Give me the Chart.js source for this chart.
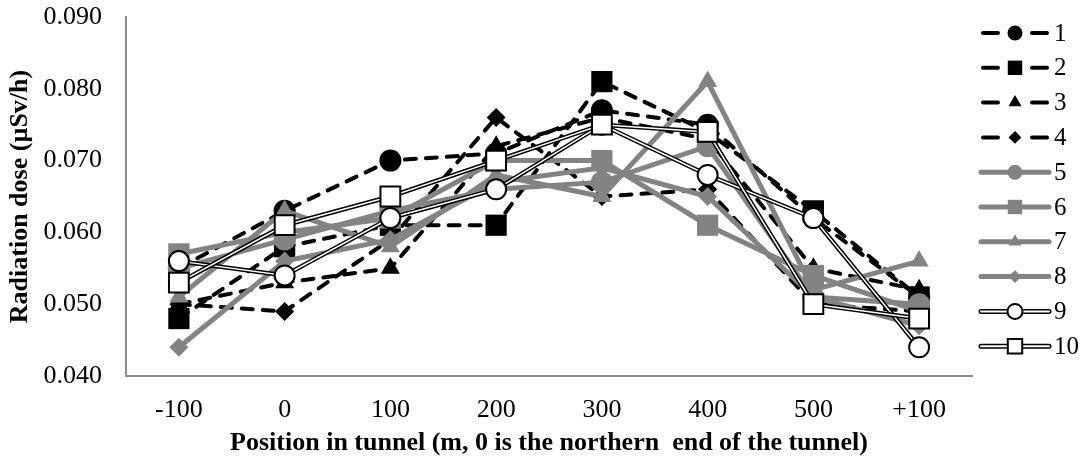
<!DOCTYPE html>
<html>
<head>
<meta charset="utf-8">
<script src="https://cdn.jsdelivr.net/npm/chart.js@4"></script>
<style>
  html, body { margin: 0; padding: 0; background: #fff; }
  #wrap { width: 1089px; height: 464px; }
</style>
</head>
<body>
<div id="wrap"><canvas id="chart" width="1089" height="464"></canvas></div>
<script>
// positions along the tunnel (x categories)
const positions = ['-100', '0', '100', '200', '300', '400', '500', '+100'];
const yTicks = [0.040, 0.050, 0.060, 0.070, 0.080, 0.090];

// radiation dose per measurement run (uSv/h)
const run1 = [0.055, 0.063, 0.070, 0.071, 0.077, 0.075, 0.062, 0.051];
const run2 = [0.048, 0.058, 0.061, 0.061, 0.081, 0.074, 0.063, 0.051];
const run3 = [0.050, 0.053, 0.055, 0.072, 0.076, 0.073, 0.055, 0.052];
const run4 = [0.050, 0.049, 0.059, 0.076, 0.065, 0.066, 0.050, 0.049];
const run5 = [0.055, 0.059, 0.063, 0.066, 0.067, 0.072, 0.051, 0.050];
const run6 = [0.057, 0.060, 0.062, 0.070, 0.070, 0.061, 0.054, 0.049];
const run7 = [0.051, 0.063, 0.058, 0.068, 0.065, 0.081, 0.052, 0.056];
const run8 = [0.044, 0.056, 0.059, 0.067, 0.069, 0.065, 0.051, 0.047];
const run9 = [0.056, 0.054, 0.062, 0.066, 0.075, 0.068, 0.062, 0.044];
const run10 = [0.053, 0.061, 0.065, 0.070, 0.075, 0.074, 0.050, 0.048];

const runNames = ['1', '2', '3', '4', '5', '6', '7', '8', '9', '10'];
const runValues = [run1, run2, run3, run4, run5, run6, run7, run8, run9, run10];

const GREY = '#838383';
const FONT = '"Liberation Serif", "Times New Roman", serif';

// marker shape + size per run
const markers = [
    { style: 'circle', r: 11 }, { style: 'rect', r: 15 }, { style: 'triangle', r: 11 }, { style: 'rectRot', r: 9.5 },
    { style: 'circle', r: 11 }, { style: 'rect', r: 15 }, { style: 'triangle', r: 11 }, { style: 'rectRot', r: 9.5 },
    { style: 'circle', r: 11 }, { style: 'rect', r: 15 }
];

function kind(i) {
    if (i < 4) return 'black';
    if (i < 8) return 'grey';
    return 'white';
}

// Excel draws later series on top; in Chart.js a lower order is drawn on top
const datasets = [];
runValues.forEach((vals, i) => {
    const k = kind(i);
    const m = markers[i];
    const rank = (9 - i) * 2;
    if (k === 'black') {
        datasets.push({
            label: runNames[i], data: vals, order: rank,
            borderColor: '#000', borderWidth: 4, borderDash: [11, 10], borderCapStyle: 'round',
            pointStyle: m.style, pointRadius: m.r, pointBackgroundColor: '#000', pointBorderColor: '#000', pointBorderWidth: 0
        });
    } else if (k === 'grey') {
        datasets.push({
            label: runNames[i], data: vals, order: rank,
            borderColor: GREY, borderWidth: 5,
            pointStyle: m.style, pointRadius: m.r, pointBackgroundColor: GREY, pointBorderColor: GREY, pointBorderWidth: 0
        });
    } else {
        // double line: black outline underneath, thin white core with markers on top
        datasets.push({
            label: runNames[i] + '_outline', data: vals, order: rank + 1,
            borderColor: '#000', borderWidth: 4.5, pointRadius: 0
        });
        datasets.push({
            label: runNames[i], data: vals, order: rank,
            borderColor: '#fff', borderWidth: 1.5,
            pointStyle: m.style, pointRadius: m.r - 1, pointBackgroundColor: '#fff', pointBorderColor: '#000', pointBorderWidth: 2
        });
    }
});

// legend at the right with line + marker samples
const sideLegend = {
    id: 'sideLegend',
    afterDraw(c) {
        const ctx = c.ctx;
        const x0 = c.chartArea.right + 9;
        const x1 = x0 + 68;
        const xm = (x0 + x1) / 2;
        ctx.save();
        runNames.forEach((name, i) => {
            const y = 33 + i * 34.8;
            const k = kind(i);
            const m = markers[i];
            ctx.lineCap = 'round';
            ctx.setLineDash([]);
            if (k === 'black') {
                ctx.strokeStyle = '#000';
                ctx.lineWidth = 4;
                ctx.beginPath();
                ctx.moveTo(x0 + 2, y); ctx.lineTo(x0 + 17, y);
                ctx.moveTo(x1 - 17, y); ctx.lineTo(x1 - 2, y);
                ctx.stroke();
            } else if (k === 'grey') {
                ctx.strokeStyle = GREY;
                ctx.lineWidth = 5;
                ctx.beginPath(); ctx.moveTo(x0, y); ctx.lineTo(x1, y); ctx.stroke();
            } else {
                ctx.strokeStyle = '#000';
                ctx.lineWidth = 5;
                ctx.beginPath(); ctx.moveTo(x0, y); ctx.lineTo(x1, y); ctx.stroke();
                ctx.strokeStyle = '#fff';
                ctx.lineWidth = 2;
                ctx.beginPath(); ctx.moveTo(x0, y); ctx.lineTo(x1, y); ctx.stroke();
            }
            const fill = k === 'black' ? '#000' : (k === 'grey' ? GREY : '#fff');
            ctx.fillStyle = fill;
            ctx.strokeStyle = '#000';
            ctx.lineWidth = 2;
            Chart.helpers.drawPoint(ctx, {
                pointStyle: m.style, radius: m.r * 0.68, rotation: 0,
                borderWidth: k === 'white' ? 2 : 0
            }, xm, y);
            ctx.fillStyle = '#000';
            ctx.font = '25px ' + FONT;
            ctx.textAlign = 'left';
            ctx.textBaseline = 'middle';
            ctx.fillText(name, x1 + 5, y + 1);
        });
        ctx.restore();
    }
};

new Chart(document.getElementById('chart'), {
    type: 'line',
    data: { labels: positions, datasets: datasets },
    options: {
        responsive: false,
        animation: false,
        layout: { autoPadding: false, padding: { top: 17, right: 117, left: 0, bottom: 5 } },
        plugins: {
            legend: { display: false },
            tooltip: { enabled: false }
        },
        scales: {
            x: {
                offset: true,
                grid: { display: false, drawTicks: false },
                border: { display: true, color: '#8c8c8c', width: 2 },
                ticks: { color: '#000', padding: 19, font: { family: FONT, size: 26 } },
                title: { display: true, text: 'Position in tunnel (m, 0 is the northern  end of the tunnel)', color: '#000',
                    padding: { top: 2, bottom: 0 }, font: { family: FONT, size: 26, weight: 'bold' } },
                afterFit: s => { s.height = 464 - 5 - 376; }
            },
            y: {
                min: yTicks[0],
                max: yTicks[yTicks.length - 1],
                afterBuildTicks: s => { s.ticks = yTicks.map(v => ({ value: v })); },
                grid: { display: false, drawTicks: false },
                border: { display: true, color: '#8c8c8c', width: 2 },
                ticks: { color: '#000', padding: 24, font: { family: FONT, size: 26 },
                    callback: v => Number(v).toFixed(3) },
                title: { display: true, text: 'Radiation dose (µSv/h)', color: '#000',
                    padding: { top: 5, bottom: 0 }, font: { family: FONT, size: 26, weight: 'bold' } },
                afterFit: s => { s.width = 126; s.paddingTop = 0; s.paddingBottom = 0; }
            }
        }
    },
    plugins: [sideLegend]
});
</script>
</body>
</html>
